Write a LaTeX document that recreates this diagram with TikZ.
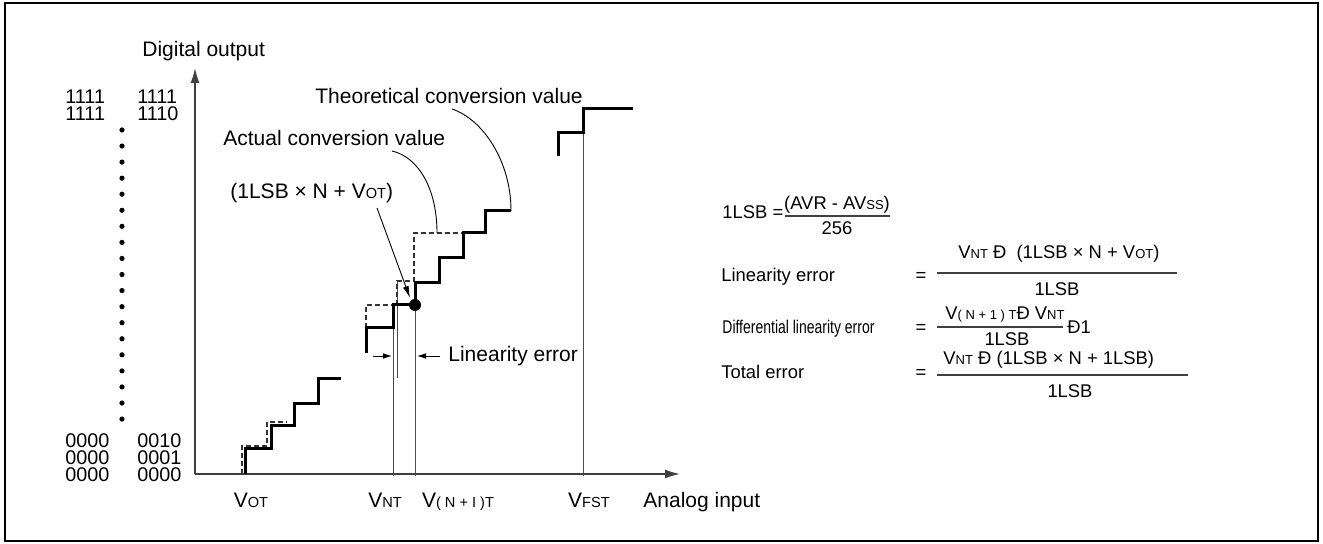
\documentclass[tikz,border=0pt]{standalone}
\usepackage{fontspec}
\setmainfont{Liberation Sans}
\usetikzlibrary{arrows.meta}
\newcommand{\sbx}[1]{{\fontsize{7.3}{8}\selectfont #1}}
\newcommand{\sbf}[1]{{\fontsize{6.5}{7}\selectfont #1}}
\begin{document}
\begin{tikzpicture}[x=0.5pt,y=-0.5pt,
  lbl/.style={inner sep=0pt, font=\fontsize{10.5}{12}\selectfont},
  bin/.style={inner sep=0pt, font=\fontsize{9.9}{11}\selectfont},
  flbl/.style={inner sep=0pt, font=\fontsize{9.2}{11}\selectfont},
  axis/.style={draw=black!75, line width=0.7pt},
  stair/.style={draw=black, line width=1.5pt, line join=miter},
  theo/.style={draw=black!80, line width=0.6pt, dash pattern=on 2.4pt off 1.6pt},
  guide/.style={draw=black!70, line width=0.45pt},
  lead/.style={draw=black, line width=0.45pt},
  fbar/.style={draw=black!75, line width=0.55pt},
  bigtip/.style={-{Latex[length=7.5pt,width=4.5pt]}},
  smalltip/.style={-{Latex[length=4.5pt,width=2.8pt]}},
  leadtip/.style={-{Latex[length=6pt,width=3pt]}},
]
\useasboundingbox (0,0) rectangle (1323,544);
\draw[line width=0.8pt] (5,3) rectangle (1318,541);

% axes
\coordinate (O) at (195,474);
\coordinate (Ytip) at (195,68);
\coordinate (Xtip) at (680,474);
\draw[axis,bigtip] (O) -- (Ytip);
\draw[axis,bigtip] (O) -- (Xtip);
\node[lbl,anchor=base west] (dout) at (142,57) {Digital output};
\node[lbl,anchor=base west] (ain) at (643,508) {Analog input};

% binary codes
\node[bin,anchor=base west] (b1a) at (65,104) {1111};
\node[bin,anchor=base west] (b1b) at (137,104) {1111};
\node[bin,anchor=base west] (b2a) at (65,121) {1111};
\node[bin,anchor=base west] (b2b) at (137,121) {1110};
\node[bin,anchor=base west] (b3a) at (65,448) {0000};
\node[bin,anchor=base west] (b3b) at (137,448) {0010};
\node[bin,anchor=base west] (b4a) at (65,465) {0000};
\node[bin,anchor=base west] (b4b) at (137,465) {0001};
\node[bin,anchor=base west] (b5a) at (65,482) {0000};
\node[bin,anchor=base west] (b5b) at (137,482) {0000};
\foreach \k in {0,...,18} \fill (122,{130+16.06*\k}) circle[radius=1.3pt];

% axis labels
\node[lbl,anchor=base] (vot) at (251,508) {V\sbx{OT}};
\node[lbl,anchor=base] (vnt) at (385,508) {V\sbx{NT}};
\node[lbl,anchor=base] (vn1) at (458,508) {V\sbx{( N + I )T}};
\node[lbl,anchor=base] (vfst) at (589,508) {V\sbx{FST}};

% guide verticals
\draw[guide] (393,305) -- (393,476);
\draw[guide] (397,281) -- (397,378);
\draw[guide] (415,305) -- (415,476);
\draw[guide] (583,133) -- (583,476);

% theoretical (dashed)
\draw[theo] (242,474) -- (242,446) -- (267,446) -- (267,422) -- (287,422);
\draw[theo] (366,328) -- (366,305) -- (393,305);
\draw[theo] (397,305) -- (397,281) -- (414,281) -- (414,233) -- (463,233);

% actual (thick)
\draw[stair] (245,474) -- (245,449) -- (271,449) -- (271,426) -- (294,426) -- (294,404) -- (318,404) -- (318,379) -- (341,379);
\draw[stair] (366,353) -- (366,328) -- (393,328) -- (393,305) -- (415,305) -- (415,283) -- (439,283) -- (439,258) -- (463,258) -- (463,233) -- (485,233) -- (485,211) -- (511,211);
\draw[stair] (558,156) -- (558,133) -- (583,133) -- (583,109) -- (633,109);
\coordinate (pt) at (415,305);
\fill (pt) circle[radius=3pt];

% labels with leaders
\node[lbl,anchor=base west] (theolbl) at (315,104) {Theoretical conversion value};
\node[lbl,anchor=base west] (actlbl) at (223,146) {Actual conversion value};
\node[lbl,anchor=base west] (reflbl) at (230,199) {(1LSB × N + V\sbx{OT})};
\coordinate (theoA) at (452,109);
\coordinate (theoB) at (511,211);
\coordinate (actA) at (392,151);
\coordinate (actB) at (437,233);
\draw[lead] (theoA) .. controls (482,119) and (511,160) .. (theoB);
\draw[lead] (actA) .. controls (418,157) and (437,188) .. (actB);
\coordinate (refA) at (377,208);
\coordinate (refB) at (410,298);
\draw[lead,leadtip] (refA) -- (refB);

% linearity error arrows
\node[lbl,anchor=base west] (linlbl) at (448,362) {Linearity error};
\coordinate (la1) at (373,356);
\coordinate (la2) at (392,356);
\coordinate (lb1) at (440,356);
\coordinate (lb2) at (417,356);
\draw[lead,smalltip] (la1) -- (la2);
\draw[lead,smalltip] (lb1) -- (lb2);

% formulas
\node[flbl,anchor=base west] (f1l) at (722,219) {1LSB =};
\node[flbl,anchor=base] (f1n) at (837,210) {(AVR - AV\sbf{SS})};
\node[flbl,anchor=base] (f1d) at (837,235) {256};
\draw[fbar] (785,216) -- (890,216);

\node[flbl,anchor=base west] (f2l) at (721,282) {Linearity error};
\node[flbl,anchor=base] (f2e) at (921,282) {=};
\node[flbl,anchor=base west] (f2n) at (958,259) {V\sbf{NT} Ð~~(1LSB × N + V\sbf{OT})};
\node[flbl,anchor=base] (f2d) at (1057,296) {1LSB};
\draw[fbar] (937,273) -- (1177,273);

\node[flbl,anchor=base west] (f3l) at (722,334) {\scalebox{0.76}[1]{Differential linearity error}};
\node[flbl,anchor=base] (f3e) at (921,334) {=};
\node[flbl,anchor=base west] (f3n) at (945,320) {V\sbf{( N + 1 ) T}Ð V\sbf{NT}};
\node[flbl,anchor=base] (f3d) at (1007,346) {1LSB};
\node[flbl,anchor=base west] (f3m) at (1067,334) {Ð1};
\draw[fbar] (937,327) -- (1063,327);

\node[flbl,anchor=base west] (f4l) at (721,379) {Total error};
\node[flbl,anchor=base] (f4e) at (921,379) {=};
\node[flbl,anchor=base west] (f4n) at (943,365) {V\sbf{NT} Ð (1LSB × N + 1LSB)};
\node[flbl,anchor=base] (f4d) at (1070,398) {1LSB};
\draw[fbar] (937,375) -- (1188,375);
\end{tikzpicture}
\end{document}
